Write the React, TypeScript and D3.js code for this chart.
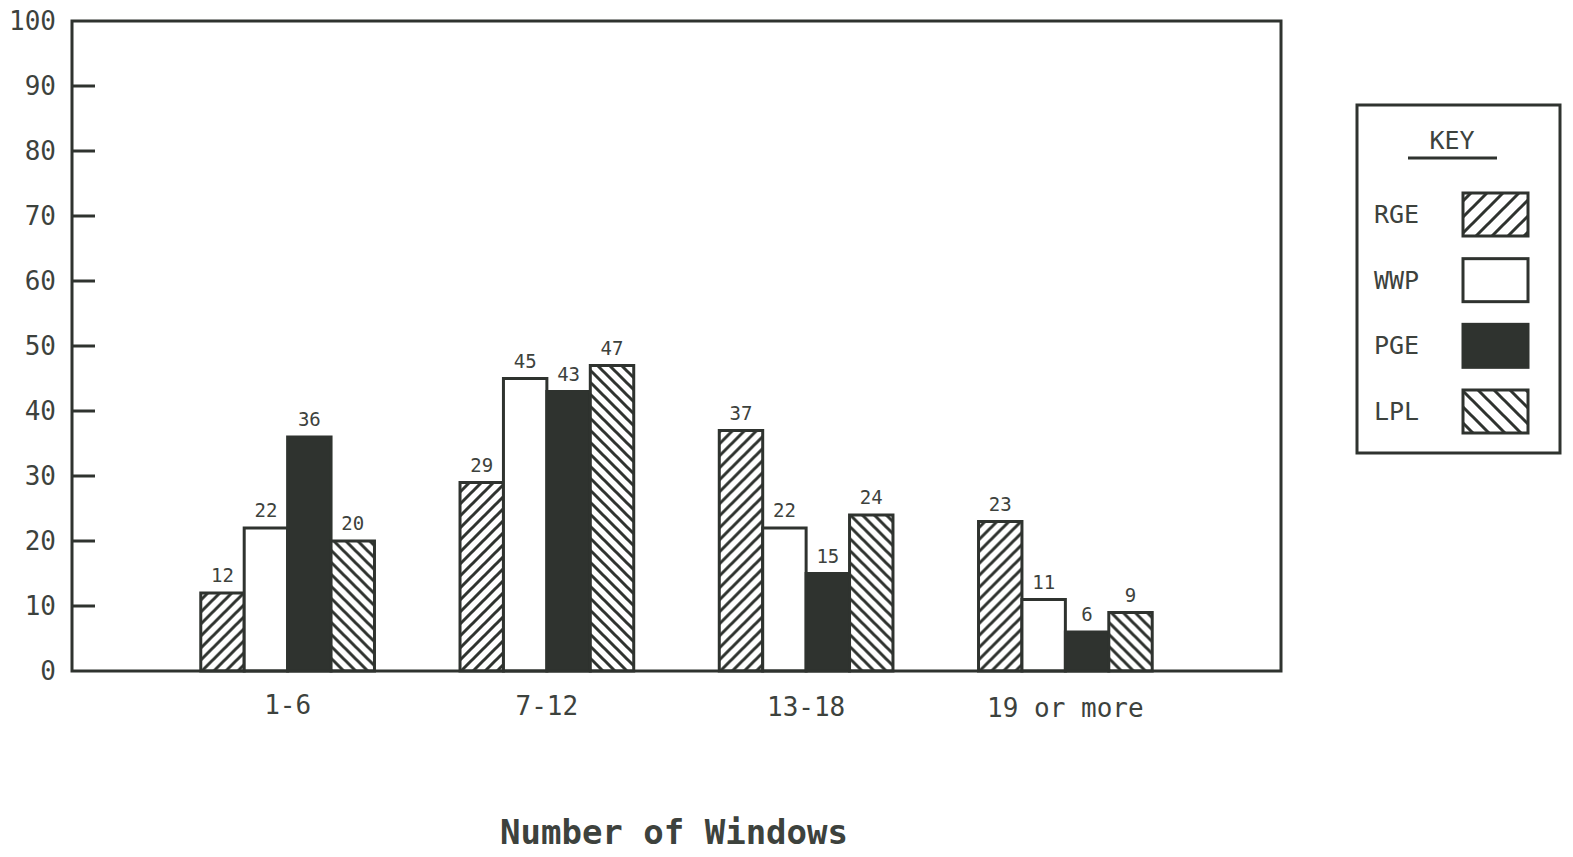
import React, { useRef, useEffect } from 'react';
import * as d3 from 'd3';

// Data
const categories = ['1-6', '7-12', '13-18', '19 or more'];
const seriesNames = ['RGE', 'WWP', 'PGE', 'LPL'];
const rgeValues = [12, 29, 37, 23];
const wwpValues = [22, 45, 22, 11];
const pgeValues = [36, 43, 15, 6];
const lplValues = [20, 47, 24, 9];
const yTicks = [0, 10, 20, 30, 40, 50, 60, 70, 80, 90, 100];

const INK = '#2f332f';
const TEXT = '#3d423d';
const MONO = '"DejaVu Sans Mono", "Liberation Mono", monospace';

const App = () => {
  const chartRef = useRef<SVGSVGElement | null>(null);

  useEffect(() => {
    document.body.style.margin = '0';
    const svg = d3.select(chartRef.current);
    svg.selectAll('*').remove();

    const W = 1573;
    const H = 857;
    const left = 72;
    const right = 1281;
    const top = 21;
    const bottom = 671;

    const seriesValues = [rgeValues, wwpValues, pgeValues, lplValues];

    // Hatch patterns
    const defs = svg.append('defs');
    const hatch = (id: string, size: number, forward: boolean) => {
      const p = defs.append('pattern')
        .attr('id', id)
        .attr('patternUnits', 'userSpaceOnUse')
        .attr('width', size)
        .attr('height', size);
      p.append('rect').attr('width', size).attr('height', size).attr('fill', '#fff');
      const d = forward
        ? `M-3,3 l6,-6 M0,${size} l${size},-${size} M${size - 3},${size + 3} l6,-6`
        : `M-3,${size - 3} l6,6 M0,0 l${size},${size} M${size - 3},-3 l6,6`;
      p.append('path').attr('d', d).attr('stroke', INK).attr('stroke-width', 3);
    };
    hatch('fwd', 12, true);
    hatch('bwd', 12, false);
    hatch('fwdKey', 16, true);
    hatch('bwdKey', 16, false);

    const fills = ['url(#fwd)', '#fff', INK, 'url(#bwd)'];
    const keyFills = ['url(#fwdKey)', '#fff', INK, 'url(#bwdKey)'];

    // Scales
    const y = d3.scaleLinear().domain([0, 100]).range([bottom, top]);
    const x0 = d3.scaleBand<string>()
      .domain(categories)
      .range([158, 1195])
      .paddingInner(0.33)
      .paddingOuter(0.165);
    const x1 = d3.scaleBand<string>()
      .domain(seriesNames)
      .range([0, x0.bandwidth()]);

    svg.attr('width', W).attr('height', H);
    svg.append('rect').attr('width', W).attr('height', H).attr('fill', '#fff');

    // Bars
    const groups = svg.selectAll('.grp')
      .data(categories)
      .enter()
      .append('g')
      .attr('class', 'grp')
      .attr('transform', d => `translate(${x0(d)},0)`);

    groups.each(function (cat, ci) {
      const g = d3.select(this);
      seriesNames.forEach((s, si) => {
        const v = seriesValues[si][ci];
        g.append('rect')
          .attr('x', x1(s)!)
          .attr('y', y(v))
          .attr('width', x1.bandwidth())
          .attr('height', y(0) - y(v))
          .attr('fill', fills[si])
          .attr('stroke', INK)
          .attr('stroke-width', 3);
        g.append('text')
          .attr('x', x1(s)! + x1.bandwidth() / 2)
          .attr('y', y(v) - 11)
          .attr('text-anchor', 'middle')
          .attr('font-family', MONO)
          .attr('font-size', 19)
          .attr('fill', TEXT)
          .text(v);
      });
    });

    // Frame
    svg.append('rect')
      .attr('x', left)
      .attr('y', top)
      .attr('width', right - left)
      .attr('height', bottom - top)
      .attr('fill', 'none')
      .attr('stroke', INK)
      .attr('stroke-width', 3);

    // Y ticks and labels
    svg.selectAll('.ytick')
      .data(yTicks.filter(t => t > 0 && t < 100))
      .enter()
      .append('line')
      .attr('x1', left)
      .attr('x2', left + 23)
      .attr('y1', d => y(d))
      .attr('y2', d => y(d))
      .attr('stroke', INK)
      .attr('stroke-width', 3);

    svg.selectAll('.ylab')
      .data(yTicks)
      .enter()
      .append('text')
      .attr('x', 56)
      .attr('y', d => y(d) + 9)
      .attr('text-anchor', 'end')
      .attr('font-family', MONO)
      .attr('font-size', 26)
      .attr('fill', TEXT)
      .text(d => d);

    // X labels
    svg.selectAll('.xlab')
      .data(categories)
      .enter()
      .append('text')
      .attr('x', d => x0(d)! + x0.bandwidth() / 2)
      .attr('y', (d, i) => 714 + i)
      .attr('text-anchor', 'middle')
      .attr('font-family', MONO)
      .attr('font-size', 26)
      .attr('fill', TEXT)
      .text(d => d);

    svg.append('text')
      .attr('x', 674)
      .attr('y', 844)
      .attr('text-anchor', 'middle')
      .attr('font-family', MONO)
      .attr('font-weight', 'bold')
      .attr('font-size', 34)
      .attr('fill', TEXT)
      .text('Number of Windows');

    // Key
    const key = svg.append('g');
    key.append('rect')
      .attr('x', 1357)
      .attr('y', 105)
      .attr('width', 203)
      .attr('height', 348)
      .attr('fill', '#fff')
      .attr('stroke', INK)
      .attr('stroke-width', 3);
    key.append('text')
      .attr('x', 1452)
      .attr('y', 149)
      .attr('text-anchor', 'middle')
      .attr('font-family', MONO)
      .attr('font-size', 25)
      .attr('fill', TEXT)
      .text('KEY');
    key.append('line')
      .attr('x1', 1408)
      .attr('x2', 1497)
      .attr('y1', 158)
      .attr('y2', 158)
      .attr('stroke', INK)
      .attr('stroke-width', 3);

    const keyY = d3.scalePoint<string>().domain(seriesNames).range([214, 411]);
    seriesNames.forEach((s, i) => {
      const cy = keyY(s)!;
      key.append('text')
        .attr('x', 1374)
        .attr('y', cy + 9)
        .attr('font-family', MONO)
        .attr('font-size', 25)
        .attr('fill', TEXT)
        .text(s);
      key.append('rect')
        .attr('x', 1463)
        .attr('y', cy - 21)
        .attr('width', 65)
        .attr('height', 43)
        .attr('fill', keyFills[i])
        .attr('stroke', INK)
        .attr('stroke-width', 3);
    });

    return () => {
      d3.select(chartRef.current).selectAll('*').remove();
    };
  }, []);

  return <svg ref={chartRef} style={{ display: 'block' }} />;
};

export default App;
